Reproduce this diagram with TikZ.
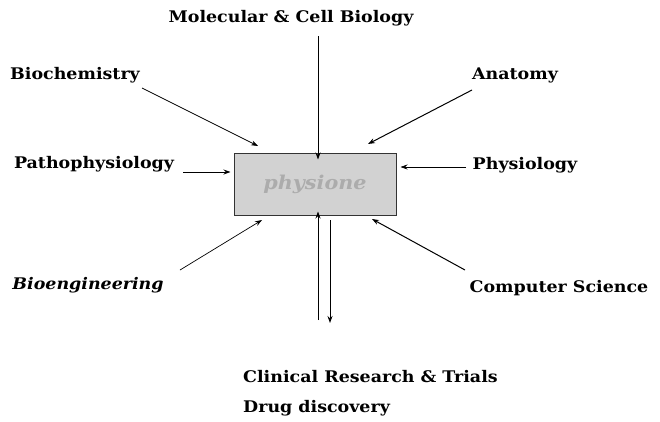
\documentclass[tikz,border=0pt]{standalone}
\usepackage{fontspec}
\setmainfont{DejaVu Serif}[FakeStretch=1.09]
\usetikzlibrary{arrows.meta,calc}
\begin{document}
\begin{tikzpicture}[x=1pt,y=-1pt,
 lbl/.style={font=\bfseries\fontsize{16}{18}\selectfont, inner sep=0pt},
 arr/.style={-{Stealth[length=7pt,width=5pt]}, line width=1pt},
 thin arr/.style={arr, line width=0.7pt},
 corebox/.style={draw=black!80, line width=1pt, fill=gray!35, minimum width=162pt, minimum height=62pt,
   font=\bfseries\itshape\fontsize{19}{21}\selectfont, text=gray!65},
]
\path[use as bounding box, fill=white] (0,0) rectangle (660,421);

\node[corebox] (box) at (315,184) {physione};

\node[lbl] (mol) at (291,18) {Molecular \& Cell Biology};
\node[lbl] (bio) at (75,75) {Biochemistry};
\node[lbl] (ana) at (515,75) {Anatomy};
\node[lbl] (patho) at (94,164) {Pathophysiology};
\node[lbl] (phys) at (525,165) {Physiology};
\node[lbl, font=\bfseries\itshape\fontsize{16}{18}\selectfont] (bioe) at (88,285) {Bioengineering};
\node[lbl] (comp) at (559,288) {Computer Science};
\node[lbl, anchor=west] (clin) at (243,377) {Clinical Research \& Trials};
\node[lbl, anchor=west] (drug) at (243,408) {Drug discovery};

\coordinate (m1) at (318,36);
\coordinate (b1) at (142,88);   \coordinate (b2) at (258,146);
\coordinate (a1) at (472,90);   \coordinate (a2) at (368,144);
\coordinate (p1) at (183,172);
\coordinate (q1) at (466,167);
\coordinate (e1) at (180,270);  \coordinate (e2) at (262,220);
\coordinate (c1) at (465,270);  \coordinate (c2) at (372,219);
\coordinate (u1) at (318,320);
\coordinate (d1) at (330,220);  \coordinate (d2) at (330,323);

\draw[arr] (m1) -- ([yshift=-7pt]m1 |- box.north);
\draw[thin arr] (b1) -- (b2);
\draw[arr] (a1) -- (a2);
\draw[arr] (p1) -- ([xshift=-3pt]p1 -| box.west);
\draw[thin arr] (q1) -- ([xshift=4pt]q1 -| box.east);
\draw[thin arr] (e1) -- (e2);
\draw[arr] (c1) -- (c2);
\draw[arr] (u1) -- ([yshift=4pt]u1 |- box.south);
\draw[arr] (d1) -- (d2);
\end{tikzpicture}
\end{document}
